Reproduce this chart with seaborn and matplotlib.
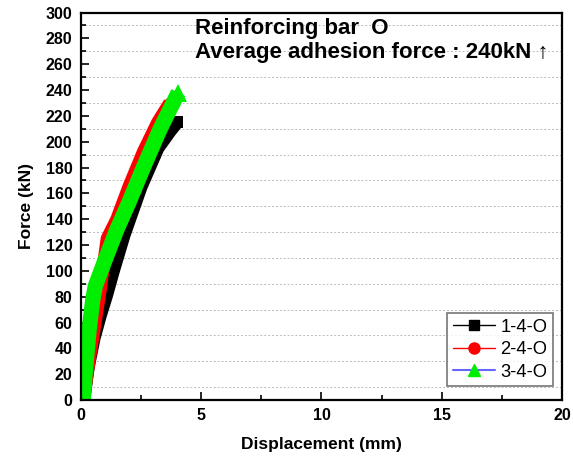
import numpy as np
import pandas as pd
import matplotlib.pyplot as plt
import seaborn as sns
from matplotlib.lines import Line2D
from matplotlib.ticker import MultipleLocator

# displacement (mm) / force (kN)
disp_1 = [0.12, 0.3, 0.55, 0.8, 1.05, 1.35, 1.8, 2.5, 3.2, 3.7, 4.0]
force_1 = [0, 25, 48, 65, 80, 100, 128, 165, 195, 208, 215]
disp_2 = [0.1, 0.3, 0.55, 0.8, 1.1, 1.5, 2.0, 2.6, 3.2, 3.7]
force_2 = [0, 25, 55, 85, 125, 140, 165, 192, 215, 230]
disp_3 = [0.1, 0.2, 0.35, 0.5, 0.6, 1.0, 1.5, 2.0, 2.6, 3.3, 4.05]
force_3 = [0, 25, 55, 78, 88, 108, 132, 153, 180, 210, 238]
labels = ["1-4-O", "2-4-O", "3-4-O"]

sns.set_style("ticks")
plt.rcParams['font.family'] = ['Liberation Sans', 'DejaVu Sans']
plt.rcParams['text.color'] = 'black'
plt.rcParams['axes.labelcolor'] = 'black'
plt.rcParams['xtick.color'] = 'black'
plt.rcParams['ytick.color'] = 'black'

fig = plt.figure(figsize=(5.73, 4.63), dpi=100)
ax = fig.add_axes([0.141, 0.136, 0.84, 0.837])

# dense markers in the original merge into thick bands
band = [("black", disp_1, force_1, "s", 9, 9.5),
        ("red", disp_2, force_2, "o", 9, 9.5),
        ("#00ee00", disp_3, force_3, "^", 13, 11)]
for c, x, y, m, ms, lw in band:
    df = pd.DataFrame({"x": x, "y": y})
    sns.lineplot(data=df, x="x", y="y", ax=ax, color=c, lw=lw, sort=False,
                 marker=m, markersize=ms, markeredgewidth=0, markevery=[-1],
                 solid_capstyle="butt", solid_joinstyle="round")

ax.set_xlim(0, 20)
ax.set_ylim(0, 300)
ax.xaxis.set_major_locator(MultipleLocator(5))
ax.xaxis.set_minor_locator(MultipleLocator(2.5))
ax.yaxis.set_major_locator(MultipleLocator(20))
ax.yaxis.set_minor_locator(MultipleLocator(10))
ax.tick_params(which="major", direction="in", length=6, width=1.2,
               labelsize=11.5, pad=6)
ax.tick_params(which="minor", direction="in", length=3.5, width=1.2)
for t in ax.get_xticklabels() + ax.get_yticklabels():
    t.set_fontweight("bold")
ax.grid(which="minor", axis="y", color="#bbbbbb", ls=(0, (2, 2)), lw=0.7)
for s in ax.spines.values():
    s.set_linewidth(1.6)
    s.set_color("black")

narrow = ['Liberation Sans Narrow', 'Liberation Sans', 'DejaVu Sans']
ax.set_xlabel("Displacement (mm)", fontsize=12.5, fontweight="bold",
              family=narrow, labelpad=10)
ax.set_ylabel("Force (kN)", fontsize=12.5, fontweight="bold",
              family=narrow, labelpad=8)

ax.text(0.237, 0.987, "Reinforcing bar  O\nAverage adhesion force : 240kN \u2191",
        transform=ax.transAxes, ha="left", va="top", fontsize=16,
        fontweight="bold", linespacing=1.2, color="black")

handles = [Line2D([], [], color="black", lw=1, marker="s", markersize=7),
           Line2D([], [], color="red", lw=1, marker="o", markersize=8),
           Line2D([], [], color="#6666ff", lw=1.5, marker="^", markersize=9,
                  markerfacecolor="#00ee00", markeredgecolor="#00ee00")]
leg = ax.legend(handles, labels, loc="lower right",
                bbox_to_anchor=(0.981, 0.036), fontsize=13.2,
                frameon=True, fancybox=False, edgecolor="#555555",
                handlelength=2.3, handletextpad=0.3, borderpad=0.3,
                labelspacing=0.3, borderaxespad=0)
leg.get_frame().set_linewidth(1.2)

fig.savefig("out.png", dpi=100)
